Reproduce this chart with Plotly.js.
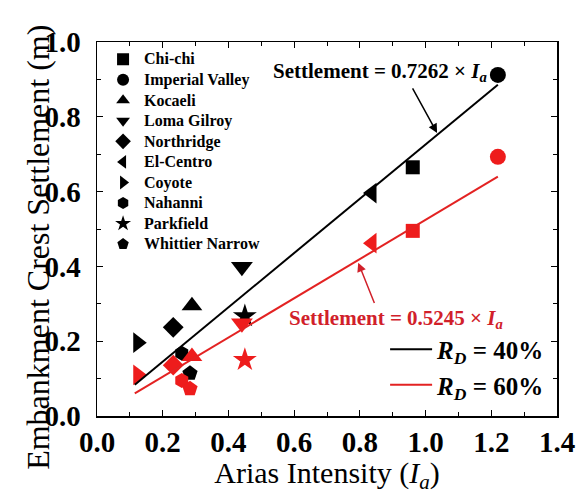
<!DOCTYPE html>
<html>
<head>
<meta charset="utf-8">
<script src="https://cdn.plot.ly/plotly-3.0.1.min.js"></script>
<style>html,body{margin:0;padding:0;background:#fff;}#chart{width:587px;height:494px;}</style>
</head>
<body>
<div id="chart"></div>
<script>
// ---- data ----
const events = ['Chi-chi','Imperial Valley','Kocaeli','Loma Gilroy','Northridge','El-Centro','Coyote','Nahanni','Parkfield','Whittier Narrow'];
const intensity = [0.961, 1.22, 0.289, 0.441, 0.232, 0.837, 0.124, 0.258, 0.45, 0.283];
const settle40 = [0.665, 0.912, 0.295, 0.399, 0.237, 0.596, 0.196, 0.168, 0.267, 0.114];
const settle60 = [0.495, 0.693, 0.159, 0.248, 0.136, 0.462, 0.110, 0.095, 0.150, 0.073];
const slope40 = 0.7262;
const slope60 = 0.5245;
const fitRange = [0.115, 1.22];
const xTicks = [0, 0.2, 0.4, 0.6, 0.8, 1.0, 1.2, 1.4];
const yTicks = [0, 0.2, 0.4, 0.6, 0.8, 1.0];

// ---- styles ----
const symbols = ['square','circle','triangle-up','triangle-down','diamond','triangle-left','triangle-right','hexagon','star','pentagon'];
const sizes = [14, 16, 18, 19, 16, 18, 18, 15, 18, 16];
const BLACK = '#000000';
const RED = '#ee1c1c';
const RED_TEXT = '#d1202a';
const SERIF = '"Liberation Serif", "Times New Roman", serif';

const traces = [];
// legend-only entries (black markers)
events.forEach((ev, i) => {
  traces.push({
    x: [null], y: [null], type: 'scatter', mode: 'markers',
    name: '<span style="font-size:16px">' + ev + '</span>',
    marker: {symbol: symbols[i], size: 12, color: BLACK},
    legend: 'legend', hoverinfo: 'skip'
  });
});
// RD 40% markers
events.forEach((ev, i) => {
  traces.push({
    x: [intensity[i]], y: [settle40[i]], type: 'scatter', mode: 'markers', name: ev,
    marker: {symbol: symbols[i], size: sizes[i], color: BLACK}, showlegend: false
  });
});
// RD 60% markers
events.forEach((ev, i) => {
  traces.push({
    x: [intensity[i]], y: [settle60[i]], type: 'scatter', mode: 'markers', name: ev,
    marker: {symbol: symbols[i], size: sizes[i], color: RED}, showlegend: false
  });
});
// fit lines
traces.push({
  x: fitRange, y: fitRange.map(v => slope40 * v), type: 'scatter', mode: 'lines',
  name: '<b><i>R<sub>D</sub></i> = 40%</b>', line: {color: BLACK, width: 2},
  legend: 'legend2', legendgroup: 'a'
});
traces.push({
  x: fitRange, y: fitRange.map(v => slope60 * v), type: 'scatter', mode: 'lines',
  name: '<b><i>R<sub>D</sub></i> = 60%</b>', line: {color: '#e32222', width: 2},
  legend: 'legend2', legendgroup: 'b'
});

const axisCommon = {
  showline: true, linecolor: '#000', linewidth: 1.5, mirror: 'ticks',
  ticks: 'inside', ticklen: 6, tickwidth: 1.2, tickcolor: '#000',
  showgrid: false, zeroline: false,
  tickfont: {family: SERIF, size: 29, color: '#000', weight: 'bold'},
  minor: {ticks: 'inside', ticklen: 4, tickwidth: 1, tickcolor: '#000', showgrid: false}
};

const layout = {
  width: 587, height: 494,
  margin: {l: 97, r: 30, t: 42, b: 78},
  paper_bgcolor: '#fff', plot_bgcolor: '#fff',
  font: {family: SERIF, color: '#000'},
  showlegend: true,
  xaxis: Object.assign({}, axisCommon, {
    range: [0, 1.4], tickvals: xTicks, ticktext: xTicks.map(v => v.toFixed(1)),
    minor: Object.assign({}, axisCommon.minor, {dtick: 0.1, tick0: 0}),
    ticklabelstandoff: 0,
    title: {text: 'Arias Intensity (<i>I<sub>a</sub></i>)', font: {family: SERIF, size: 30, color: '#000'}, standoff: 6}
  }),
  yaxis: Object.assign({}, axisCommon, {
    range: [0, 1.0], tickvals: yTicks, ticktext: yTicks.map(v => v.toFixed(1)),
    minor: Object.assign({}, axisCommon.minor, {dtick: 0.1, tick0: 0}),
    ticklabelstandoff: 9
  }),
  legend: {
    x: 0.011, y: 0.995, xanchor: 'left', yanchor: 'top',
    bgcolor: 'rgba(0,0,0,0)', borderwidth: 0,
    font: {family: SERIF, size: 13.5, color: '#000', weight: 'bold'},
    tracegroupgap: 0, itemsizing: 'constant', itemwidth: 32
  },
  legend2: {
    x: 0.985, y: 0.239, xanchor: 'right', yanchor: 'top',
    bgcolor: 'rgba(0,0,0,0)', borderwidth: 0,
    font: {family: SERIF, size: 25, color: '#000'},
    tracegroupgap: 0, itemwidth: 42
  },
  annotations: [
    {x: 0.862, y: 0.92, xref: 'x', yref: 'y', showarrow: false,
     text: '<b>Settlement = 0.7262 × <i>I<sub>a</sub></i></b>',
     font: {family: SERIF, size: 21, color: '#000'}},
    {x: 1.035, y: 0.757, ax: 0.958, ay: 0.88, xref: 'x', yref: 'y', axref: 'x', ayref: 'y',
     text: '', showarrow: true, arrowhead: 2, arrowsize: 1.2, arrowwidth: 1.5, arrowcolor: '#000'},
    {x: 0.911, y: 0.26, xref: 'x', yref: 'y', showarrow: false,
     text: '<b>Settlement = 0.5245 × <i>I<sub>a</sub></i></b>',
     font: {family: SERIF, size: 21, color: RED_TEXT}},
    {x: 0.795, y: 0.41, ax: 0.846, ay: 0.298, xref: 'x', yref: 'y', axref: 'x', ayref: 'y',
     text: '', showarrow: true, arrowhead: 2, arrowsize: 1.2, arrowwidth: 1.5, arrowcolor: RED_TEXT},
    {x: -0.128, y: 0.45, xref: 'paper', yref: 'paper', xanchor: 'center', yanchor: 'middle',
     showarrow: false, textangle: -90,
     text: 'Embankment Crest Settlement (m)',
     font: {family: SERIF, size: 32, color: '#000'}}
  ]
};

Plotly.newPlot('chart', traces, layout, {displayModeBar: false, staticPlot: true});
</script>
</body>
</html>
